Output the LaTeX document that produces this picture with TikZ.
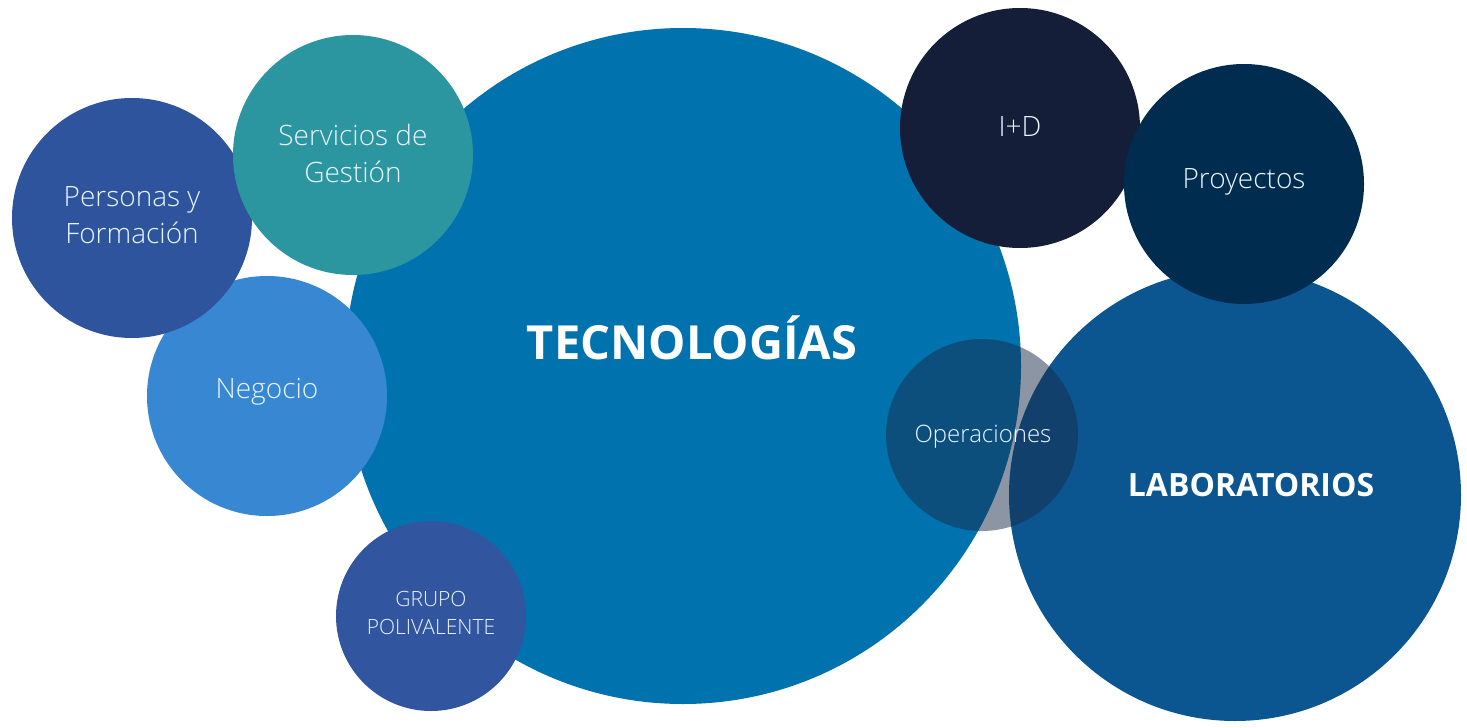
\documentclass[tikz,border=0pt]{standalone}
\usepackage{fontspec}
\setmainfont{Open Sans}[UprightFont={* Light}]
\newfontfamily\headfont{Open Sans}
\definecolor{cTec}{RGB}{0,115,175}
\definecolor{cLab}{RGB}{11,85,145}
\definecolor{cNeg}{RGB}{55,135,210}
\definecolor{cPer}{RGB}{47,84,158}
\definecolor{cSer}{RGB}{44,150,160}
\definecolor{cGru}{RGB}{50,85,160}
\definecolor{cID}{RGB}{20,30,56}
\definecolor{cPro}{RGB}{0,44,80}
\definecolor{cOpe}{RGB}{25,45,75}
\definecolor{cTxt}{RGB}{232,246,255}
\tikzset{
  bubble/.style={circle, inner sep=0pt, draw=none},
  lbl/.style={text=cTxt, align=center, font=\fontsize{14}{18.5}\selectfont},
  biglbl/.style={text=white, align=center},
}
\begin{document}
\begin{tikzpicture}[x=0.5pt, y=-0.5pt]
\fill[white] (0,0) rectangle (1467,728);
\useasboundingbox (0,0) rectangle (1467,728);
\node[bubble, fill=cTec, minimum size=338pt] (tec) at (683,366) {};
\node[bubble, fill=cLab, minimum size=226pt] (lab) at (1235,495) {};
\node[bubble, fill=cNeg, minimum size=120pt] (neg) at (267,396) {};
\node[bubble, fill=cPer, minimum size=120pt] (per) at (132,218) {};
\node[bubble, fill=cSer, minimum size=120pt] (ser) at (353,155) {};
\node[bubble, fill=cGru, minimum size=95pt] (gru) at (431,616) {};
\node[bubble, fill=cID, minimum size=120pt] (id) at (1020,128) {};
\node[bubble, fill=cPro, minimum size=120pt] (pro) at (1244,184) {};
\node[bubble, fill=cOpe, fill opacity=0.5, minimum size=96pt] (ope) at (982,435) {};

\node[lbl] (tser) at (353,153) {Servicios de\\Gestión};
\node[lbl] (tper) at (132,215) {Personas y\\Formación};
\node[lbl] (tneg) at (267,392) {Negocio};
\node[lbl, font=\fontsize{10.5}{14}\selectfont] (tgru) at (431,613) {GRUPO\\POLIVALENTE};
\node[biglbl, font=\fontsize{23.5}{27}\headfont\bfseries\selectfont] (ttec) at (692,338) {TECNOLOGÍAS};
\node[lbl] (tid) at (1020,127) {I+D};
\node[lbl] (tpro) at (1244,182) {Proyectos};
\node[lbl, font=\fontsize{12}{14}\selectfont] (tope) at (983,437) {Operaciones};
\node[biglbl, font=\fontsize{16}{19}\headfont\bfseries\selectfont] (tlab) at (1251,485) {LABORATORIOS};
\end{tikzpicture}
\end{document}
